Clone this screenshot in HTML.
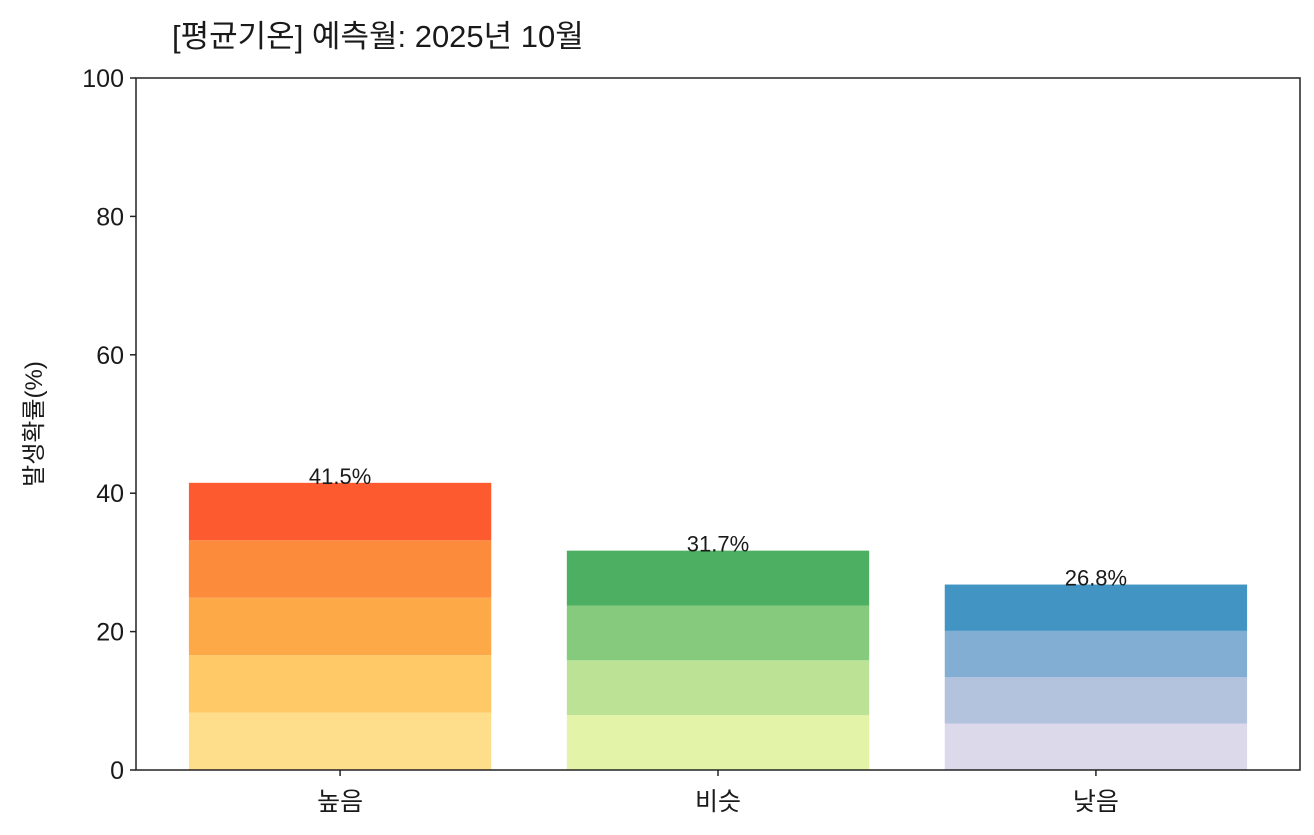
<!DOCTYPE html>
<html><head><meta charset="utf-8"><style>
body{margin:0;background:#fff;}
svg text{font-family:"Liberation Sans","Noto Sans CJK KR",sans-serif;fill:#1a1a1a;}
</style></head><body>
<svg width="1314" height="830" xmlns="http://www.w3.org/2000/svg">
<text x="172" y="47" font-size="31">[평균기온] 예측월: 2025년 10월</text>
<g id="bars"></g>
<g id="yticks"></g>
<g id="xticks"></g>
<rect x="136" y="78" width="1164" height="692" fill="none" stroke="#222" stroke-width="1.5"/>
<text transform="translate(42,424) rotate(-90)" text-anchor="middle" font-size="24">발생확률(%)</text>
</svg>
<script>
const categories=["높음","비슷","낮음"];
const values=[41.5,31.7,26.8];
const segmentCounts=[5,4,4];
const palettes=[["#fede8a","#fec966","#fea948","#fd8b3c","#fe5a2f"],["#e3f4a9","#bce395","#86cb7d","#4caf62"],["#dcd9ea","#b3c3dd","#82aed3","#4295c3"]];
const yTicks=[0,20,40,60,80,100];
const NS="http://www.w3.org/2000/svg";
const L=136,R=1300,T=78,B=770;
const xmin=-0.54,xmax=2.54;
const xs=v=>L+(v-xmin)/(xmax-xmin)*(R-L);
const ys=v=>B-v/100*(B-T);
function mk(t,a,p){const e=document.createElementNS(NS,t);for(const k in a)e.setAttribute(k,a[k]);p.appendChild(e);return e;}
const bars=document.getElementById('bars'),yt=document.getElementById('yticks'),xt=document.getElementById('xticks');
categories.forEach((c,i)=>{
  const n=segmentCounts[i],seg=values[i]/n,x0=xs(i-0.4),w=xs(i+0.4)-x0;
  for(let k=0;k<n;k++){
    const r=mk('rect',{x:x0,y:ys(seg*(k+1)),width:w,height:ys(seg*k)-ys(seg*(k+1)),fill:palettes[i][k]},bars);
    
    
  }
  const t=mk('text',{x:xs(i),y:ys(values[i])+1,'text-anchor':'middle','font-size':'22'},bars);
  t.textContent=values[i].toFixed(1)+'%';
  
  
  mk('line',{x1:xs(i),x2:xs(i),y1:B,y2:B+6,stroke:'#222','stroke-width':1.5},xt);
  const xl=mk('text',{x:xs(i),y:B+40,'text-anchor':'middle','font-size':'25'},xt);
  xl.textContent=c;
  
  
});
yTicks.forEach(v=>{
  mk('line',{x1:L-6,x2:L,y1:ys(v),y2:ys(v),stroke:'#222','stroke-width':1.5},yt);
  const t=mk('text',{x:L-12,y:ys(v)+9,'text-anchor':'end','font-size':'25'},yt);
  t.textContent=v;
  
  
});
</script>
</body></html>
